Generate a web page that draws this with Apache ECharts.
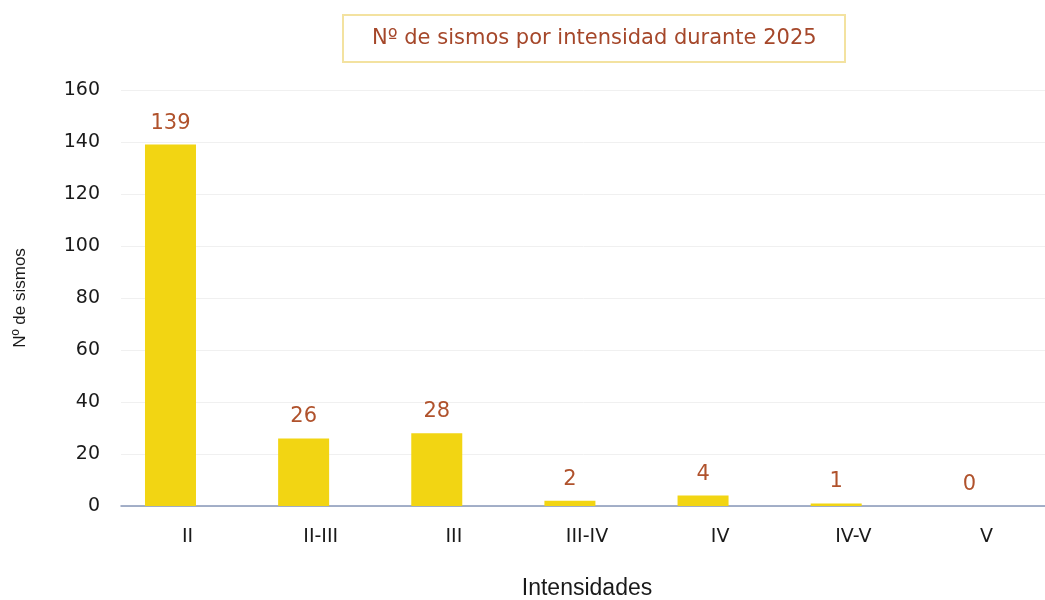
<!DOCTYPE html>
<html><head><meta charset="utf-8">
<script src="https://cdn.jsdelivr.net/npm/echarts@6/dist/echarts.min.js"></script>
<style>html,body{margin:0;padding:0;background:#fff}#c{width:1045px;height:600px}</style>
</head><body><div id="c"></div>
<script>
const categories = ['II', 'II-III', 'III', 'III-IV', 'IV', 'IV-V', 'V'];
const values = [139, 26, 28, 2, 4, 1, 0];
const yTicks = [0, 20, 40, 60, 80, 100, 120, 140, 160];
const titleText = 'Nº de sismos por intensidad durante 2025';
const yName = 'Nº de sismos';
const xName = 'Intensidades';

const FONT = 'DejaVu Sans, Liberation Sans, Arial';
const FONT2 = 'Liberation Sans, Arial';
const chart = echarts.init(document.getElementById('c'));
chart.setOption({
  backgroundColor: '#fff',
  animation: false,
  title: {
    text: titleText,
    left: 343, top: 15,
    padding: [13, 29],
    borderColor: '#f3e2a0', borderWidth: 2,
    textStyle: { color: '#a5472a', fontSize: 21, fontWeight: 'normal', fontFamily: FONT }
  },
  grid: { left: 121, right: -8, top: 90, bottom: 94, containLabel: false, outerBoundsMode: 'none' },
  xAxis: {
    type: 'category', data: categories,
    name: xName, nameLocation: 'middle', nameGap: 71,
    nameTextStyle: { color: '#1a1a1a', fontSize: 23, fontFamily: FONT2 },
    axisLine: { lineStyle: { color: '#8797b8', width: 1.5 } },
    axisTick: { show: false },
    axisLabel: { color: '#1a1a1a', fontSize: 19, margin: 22, fontFamily: FONT }
  },
  yAxis: {
    type: 'value', min: yTicks[0], max: yTicks[yTicks.length - 1], interval: 20,
    name: yName, nameLocation: 'middle', nameGap: 92, nameRotate: 90,
    nameTextStyle: { color: '#1a1a1a', fontSize: 17, fontFamily: FONT2 },
    axisLine: { show: false }, axisTick: { show: false },
    axisLabel: { color: '#1a1a1a', fontSize: 19, margin: 21, fontFamily: FONT },
    splitLine: { lineStyle: { color: '#f0f0f0' } }
  },
  series: [{
    type: 'bar', data: values, barWidth: 51, barGap: '-33%',
    itemStyle: { color: '#f2d513' },
    label: { show: true, position: 'top', distance: 11, color: '#b0522c', fontSize: 21, fontFamily: FONT }
  }, {
    type: 'bar', data: [], barWidth: 51
  }]
});
</script></body></html>
